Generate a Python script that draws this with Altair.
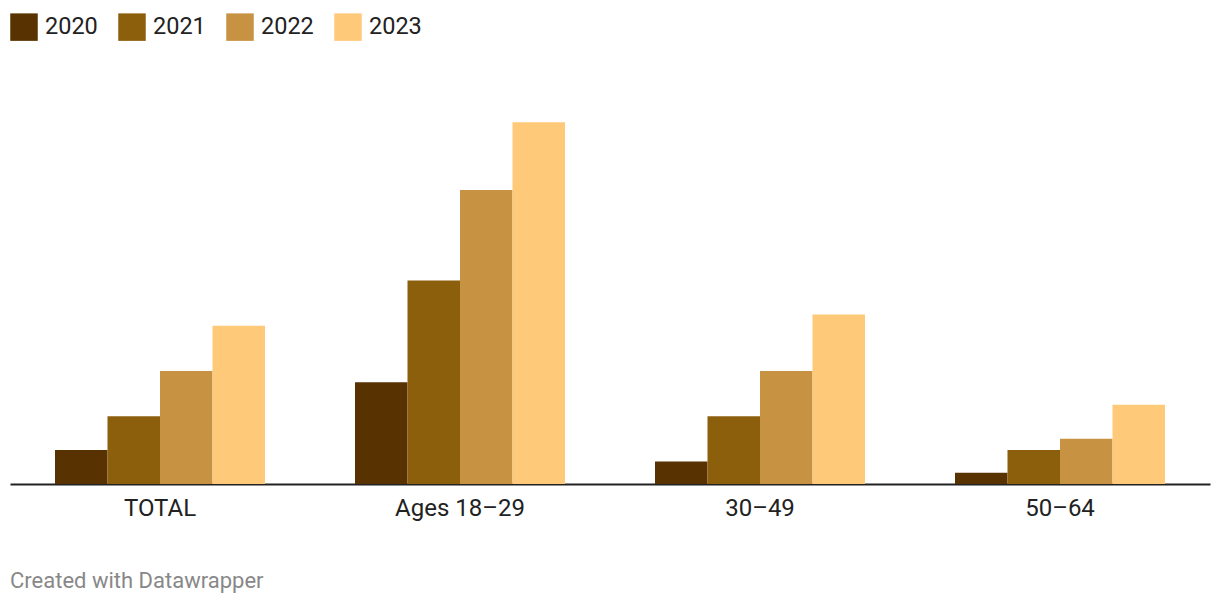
import altair as alt
import pandas as pd

groups = ["TOTAL", "Ages 18–29", "30–49", "50–64"]
years = ["2020", "2021", "2022", "2023"]
values = {
    "2020": [3, 9, 2, 1],
    "2021": [6, 18, 6, 3],
    "2022": [10, 26, 10, 4],
    "2023": [14, 32, 15, 7],
}
colors = ["#583200", "#8c5f0c", "#c79343", "#fec979"]
footer = ["Created with Datawrapper"]

rows = []
for y in years:
    for g, v in zip(groups, values[y]):
        rows.append({"group": g, "year": y, "value": v})
df = pd.DataFrame(rows)

W, H = 1200, 407

bars = alt.Chart(df).mark_bar(strokeWidth=0).encode(
    x=alt.X("group:N", sort=groups, title=None,
            scale=alt.Scale(paddingInner=0.3, paddingOuter=0.15),
            axis=alt.Axis(labelAngle=0, ticks=False, domainColor="#222222",
                          domainWidth=2, labelFontSize=24, labelColor="#222222",
                          labelPadding=12, labelFont="Roboto")),
    xOffset=alt.XOffset("year:N", sort=years,
                        scale=alt.Scale(paddingInner=0, paddingOuter=0)),
    y=alt.Y("value:Q", scale=alt.Scale(domain=[0, 36]), axis=None),
    color=alt.Color("year:N", sort=years,
                    scale=alt.Scale(domain=years, range=colors),
                    legend=alt.Legend(title=None, orient="none", direction="horizontal",
                                      legendX=0, legendY=-64, symbolType="square",
                                      symbolSize=756, symbolStrokeWidth=0,
                                      symbolOpacity=1, labelFontSize=23.5,
                                      labelFont="Roboto", labelColor="#222222",
                                      labelOffset=7, columnPadding=20,
                                      labelLimit=200)),
)

foot = alt.Chart(pd.DataFrame({"t": footer})).mark_text(
    align="left", baseline="middle", fontSize=22, font="Roboto", color="#888888"
).encode(x=alt.value(0), y=alt.value(504), text="t:N")

chart = alt.layer(bars, foot).properties(
    width=W, height=H,
    padding={"left": 10, "top": 77, "right": 10, "bottom": 122},
    autosize=alt.AutoSizeParams(type="none"),
).configure(font="Roboto").configure_view(strokeWidth=0, stroke="transparent")

chart.save("out.html", embed_options={"renderer": "svg", "actions": False})
